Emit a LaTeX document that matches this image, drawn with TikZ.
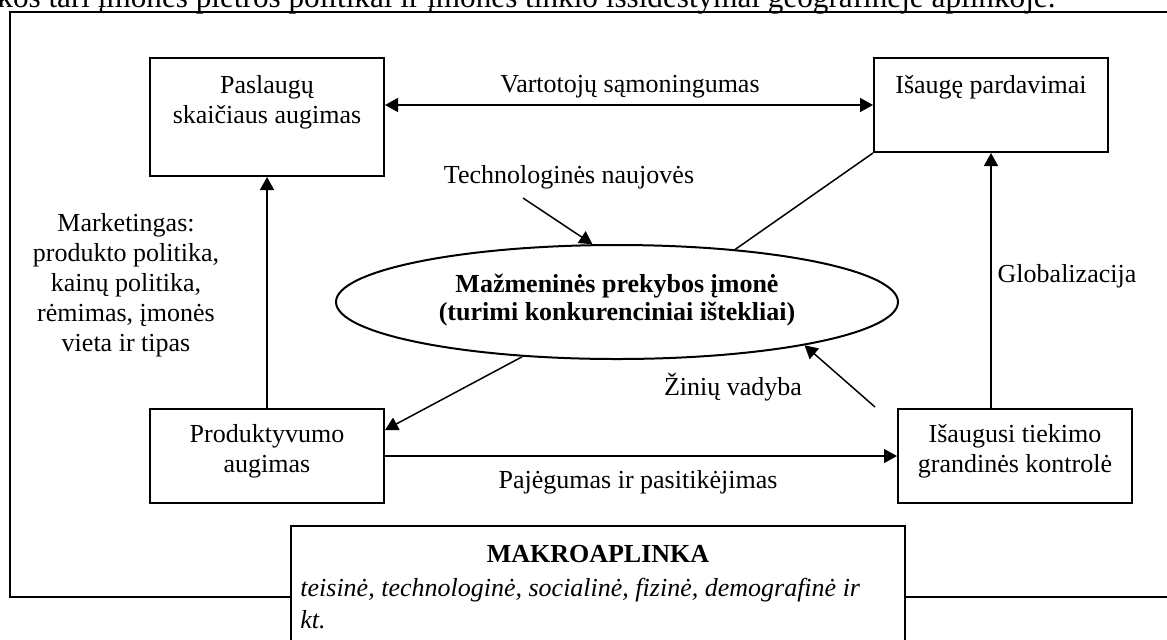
\documentclass[tikz,border=0pt]{standalone}
\usepackage{fontspec}
\setmainfont{Liberation Serif}
\usetikzlibrary{arrows.meta,calc,shapes.geometric}

% strut that fixes the height of the first line of a block
\newcommand\firststrut{\rule{0pt}{12pt}}

\tikzset{
  base font/.style={font=\fontsize{13}{15}\selectfont},
  every node/.style={base font, inner sep=0pt},
  box/.style={draw, line width=1pt, rectangle, minimum width=117pt},
  blocktext/.style={align=center, anchor=north},
  label text/.style={anchor=base},
  conn/.style={line width=0.75pt},
  tip/.tip={Triangle[length=6.5pt,width=7pt]},
  arr/.style={conn, -tip},
  dblarr/.style={conn, tip-tip},
}

\begin{document}
\begin{tikzpicture}[x=0.5pt,y=-0.5pt]
\useasboundingbox (0,0) rectangle (1167,639);

% running text line above the figure
\node[anchor=base west, font=\fontsize{15.6}{18}\selectfont] (head) at (-3,7.5)
  {kos tari įmonės plėtros politikai ir įmonės tinklo išsidėstymai geografinėje aplinkoje.};

% outer frame
\draw[line width=1.1pt] (10,12) rectangle (1190,597);

% boxes
\node[box, minimum height=59pt] (pas) at (267,117) {};
\node[blocktext] (pasT) at (267,69) {\firststrut Paslaugų\\skaičiaus augimas};

\node[box, minimum height=47pt] (sales) at (991,105) {};
\node[blocktext] (salesT) at (991,69) {\firststrut Išaugę pardavimai};

\node[box, minimum height=47pt] (prod) at (267,456) {};
\node[blocktext] (prodT) at (267,418) {\firststrut Produktyvumo\\augimas};

\node[box, minimum height=47pt] (supply) at (1015,456) {};
\node[blocktext] (supplyT) at (1015,418) {\firststrut Išaugusi tiekimo\\grandinės kontrolė};

% central company
\node[draw, ellipse, line width=1pt, minimum width=281pt, minimum height=57pt] (ent) at (617,302) {};
\node[blocktext, font=\fontsize{13}{14}\selectfont\bfseries] (entT) at (617,268)
  {\firststrut Mažmeninės prekybos įmonė\\(turimi konkurenciniai ištekliai)};

% macro environment
\node[draw, fill=white, line width=1pt, minimum width=307pt, minimum height=67pt] (macro) at (598,593) {};
\node[label text, font=\fontsize{13}{15}\selectfont\bfseries] (macroT) at (598,562) {MAKROAPLINKA};
\node[anchor=north west, align=left, font=\fontsize{13}{16}\selectfont\itshape] (macroD) at (300,572)
  {\firststrut teisinė, technologinė, socialinė, fizinė, demografinė ir\\kt.};

% connector labels
\node[label text] (lblAware) at (630,92) {Vartotojų sąmoningumas};
\node[label text] (lblTech) at (569,183) {Technologinės naujovės};
\node[label text] (lblKnow) at (733,395) {Žinių vadyba};
\node[label text] (lblCap) at (638,488) {Pajėgumas ir pasitikėjimas};
\node[label text] (lblGlob) at (1067,282) {Globalizacija};
\node[blocktext] (lblMkt) at (126,207)
  {\firststrut Marketingas:\\produkto politika,\\kainų politika,\\rėmimas, įmonės\\vieta ir tipas};

% free ends of connectors
\coordinate (techTail) at (523,198);
\coordinate (knowTail) at (875,407);

% connectors
\draw[dblarr] (pas.east |- sales.west) -- (sales.west);
\draw[arr] (techTail) -- (ent.113);
\draw[conn] (ent.24) -- (sales.south west);
\draw[arr] (ent.210) -- ($(prod.north east)+(0,22)$);
\draw[arr] (knowTail) -- (ent.-13);
\draw[arr] (prod.north) -- (pas.south);
\draw[arr] (supply.north -| sales.south) -- (sales.south);
\draw[arr] (prod.east) -- (supply.west);
\end{tikzpicture}
\end{document}
